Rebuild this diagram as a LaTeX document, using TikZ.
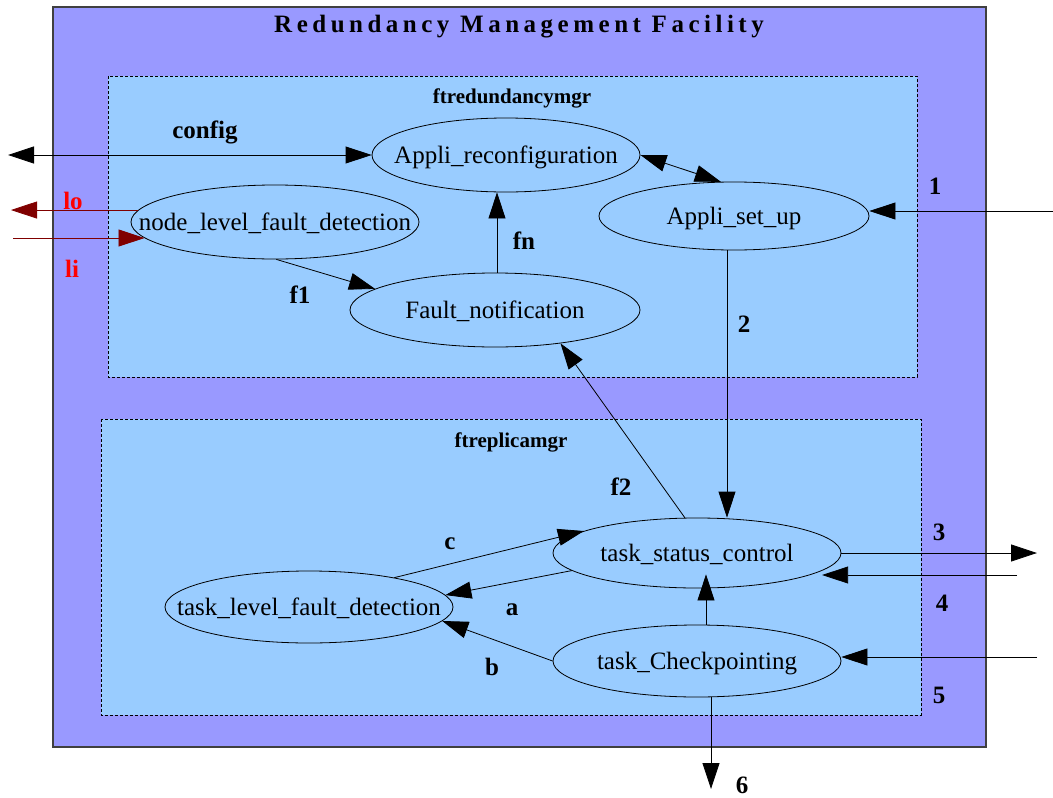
\documentclass[tikz,border=0pt]{standalone}
\usepackage{fontspec}
\setmainfont{Liberation Serif}
\newfontfamily\titlefont[LetterSpace=18]{Liberation Serif}
\usetikzlibrary{arrows.meta,shapes.geometric}
\definecolor{outerfill}{HTML}{9999FF}
\definecolor{innerfill}{HTML}{99CCFF}
\definecolor{darkred}{HTML}{800000}
\definecolor{brightred}{HTML}{FF0000}
\newcommand{\elltext}[1]{\makebox[0pt][c]{#1}}
\tikzset{
  ell/.style={ellipse, draw, line width=0.8pt, fill=innerfill, inner sep=0pt,
    font=\fontsize{25}{30}\selectfont, text height=17pt, text depth=0pt},
  lbl/.style={font=\fontsize{25}{30}\selectfont\bfseries, anchor=base, inner sep=0pt},
  boxlbl/.style={font=\fontsize{21}{25}\selectfont\bfseries, anchor=base, inner sep=0pt},
  dashbox/.style={draw, fill=innerfill, line width=0.7pt, dash pattern=on 3pt off 2pt},
  arr/.style={line width=0.8pt, -{Triangle[length=26pt,width=17pt]}},
  biarr/.style={line width=0.8pt, {Triangle[length=26pt,width=17pt]}-{Triangle[length=26pt,width=17pt]}},
  redarr/.style={arr, draw=darkred, fill=darkred},
}
\begin{document}
\begin{tikzpicture}[x=1pt,y=-1pt]
\useasboundingbox (0,0) rectangle (1053,798);
% containers
\draw[fill=outerfill, draw=black!75, line width=1.2pt] (53,7) rectangle (986,747);
\draw[dashbox] (108,76) rectangle (917,377);
\draw[dashbox] (101,419) rectangle (921,715);
\node[anchor=base, inner sep=0pt, font=\fontsize{25}{30}\titlefont\bfseries] (title) at (519,32) {Redundancy Management Facility};
\node[boxlbl] (ftred) at (512,103) {ftredundancymgr};
\node[boxlbl] (ftrep) at (511,447) {ftreplicamgr};
% ellipses
\node[ell, minimum width=268pt, minimum height=74pt] (AR) at (506,155) {\elltext{Appli\_reconfiguration}};
\node[ell, minimum width=270pt, minimum height=68pt] (AS) at (734,216) {\elltext{Appli\_set\_up}};
\node[ell, minimum width=288pt, minimum height=74pt] (NL) at (275,222) {\elltext{node\_level\_fault\_detection}};
\node[ell, minimum width=290pt, minimum height=74pt] (FN) at (495,310) {\elltext{Fault\_notification}};
\node[ell, minimum width=288pt, minimum height=70pt] (TSC) at (697,553) {\elltext{task\_status\_control}};
\node[ell, minimum width=288pt, minimum height=72pt] (TL) at (309,607) {\elltext{task\_level\_fault\_detection}};
\node[ell, minimum width=288pt, minimum height=72pt] (TC) at (697,661) {\elltext{task\_Checkpointing}};
% free ends
\coordinate (cfgL) at (8,155);
\coordinate (loEnd) at (11,210);
\coordinate (liStart) at (13,238);
\coordinate (in1) at (1053,211);
\coordinate (out3) at (1037,553);
\coordinate (in4) at (1017,575);
\coordinate (in5) at (1037,657);
\coordinate (out6) at (711,789);
% connectors
\draw[biarr] (cfgL) -- (AR.west);
\draw[redarr] (NL.175) -- (NL.175 -| loEnd);
\draw[redarr] (NL.187 -| liStart) -- (NL.187);
\draw[arr] (NL.-88) -- (FN.170);
\draw[arr] ([xshift=2pt]FN.north) -- ([xshift=2pt]FN.north |- AR.south);
\draw[biarr] (AR.east) -- (AS.111);
\draw[arr] (in1) -- (in1 -| AS.east);
\draw[arr] ([xshift=-7pt]AS.south) -- ([xshift=-7pt]AS.south |- TSC.north);
\draw[arr] (TSC.109) -- (FN.-27);
\draw[arr] (TL.19) -- (TSC.169);
\draw[arr] (TSC.188) -- (TL.5);
\draw[arr] (TC.west) -- (TL.-6);
\draw[arr, shorten >=-14pt] ([xshift=9pt]TC.north) -- ([xshift=9pt]TC.north |- TSC.south);
\draw[arr] (TSC.east) -- (TSC.east -| out3);
\draw[arr, shorten >=12pt] (in4) -- (in4 -| TSC.-11);
\draw[arr] (in5) -- (in5 -| TC.east);
\draw[arr] (TC.south -| out6) -- (out6);
% labels
\node[lbl] (lcfg) at (205,138) {config};
\node[lbl, text=brightred] (llo) at (73,209) {lo};
\node[lbl, text=brightred] (lli) at (72,277) {li};
\node[lbl] (lf1) at (300,303) {f1};
\node[lbl] (lfn) at (524,249) {fn};
\node[lbl] (l1) at (935,194) {1};
\node[lbl] (l2) at (744,332) {2};
\node[lbl] (lf2) at (621,495) {f2};
\node[lbl] (lc) at (450,549) {c};
\node[lbl] (la) at (512,615) {a};
\node[lbl] (lb) at (492,675) {b};
\node[lbl] (l3) at (939,540) {3};
\node[lbl] (l4) at (942,611) {4};
\node[lbl] (l5) at (939,703) {5};
\node[lbl] (l6) at (742,793) {6};
\end{tikzpicture}
\end{document}
